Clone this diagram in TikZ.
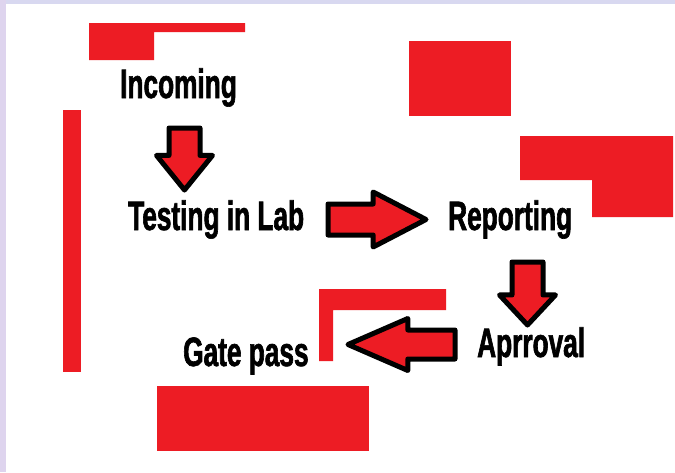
\documentclass[tikz,border=0pt]{standalone}
\usepackage{fontspec}
\setmainfont{Liberation Sans}
\newfontfamily\stagefont[FakeStretch=0.64,FakeBold=1.5]{Liberation Sans}
\usetikzlibrary{shapes.arrows}

\definecolor{paintred}{RGB}{237,28,36}
\definecolor{frametop}{RGB}{216,216,240}
\definecolor{frameleft}{RGB}{222,212,238}

\tikzset{
  stage/.style={font={\stagefont\bfseries\fontsize{41}{45}\selectfont},
    inner sep=0pt, anchor=base west},
  fat/.style={single arrow, draw=black, fill=paintred, line width=5pt,
    line join=round, inner xsep=0pt, inner ysep=13pt, minimum width=0pt,
    single arrow head extend=12.5pt, anchor=tail},
  patch/.style={fill=paintred}
}

\begin{document}
\begin{tikzpicture}[x=1pt,y=-1pt]
\useasboundingbox (0,0) rectangle (675,472);
\fill[white] (0,0) rectangle (675,472);
\fill[frametop] (0,0) rectangle (675,4);
\fill[frameleft] (0,0) rectangle (6,472);

\fill[patch] (89,23) -- (245,23) -- (245,32) -- (154,32) -- (154,60) -- (89,60) -- cycle;
\fill[patch] (63,110) rectangle (81,372);
\fill[patch] (409,41) rectangle (511,116);
\fill[patch] (520,136) -- (673,136) -- (673,217) -- (592,217) -- (592,180) -- (520,180) -- cycle;
\fill[patch] (319,289) -- (446,289) -- (446,310) -- (333,310) -- (333,361) -- (319,361) -- cycle;
\fill[patch] (157,386) rectangle (369,451);

\node[stage] (In) at (120,98) {Incoming};
\node[stage] (Test) at (128,230) {Testing in Lab};
\node[stage] (Rep) at (448,230) {Reporting};
\node[stage] (Appr) at (477,357) {Aprroval};
\node[stage] (Gate) at (183,366) {Gate pass};

\node[fat, rotate=-90, minimum height=62pt, single arrow tip angle=78] (d1) at (184.5,125.5) {};
\node[fat, minimum height=98pt, single arrow tip angle=55, single arrow head extend=12pt] (r1) at (325.5,219.5) {};
\node[fat, rotate=-90, minimum height=63pt, single arrow tip angle=86] (d2) at (527.5,259.5) {};
\node[fat, rotate=180, minimum height=107pt, single arrow tip angle=47,
  inner ysep=12pt, single arrow head extend=11.5pt] (l1) at (457.5,344.5) {};

\end{tikzpicture}
\end{document}
